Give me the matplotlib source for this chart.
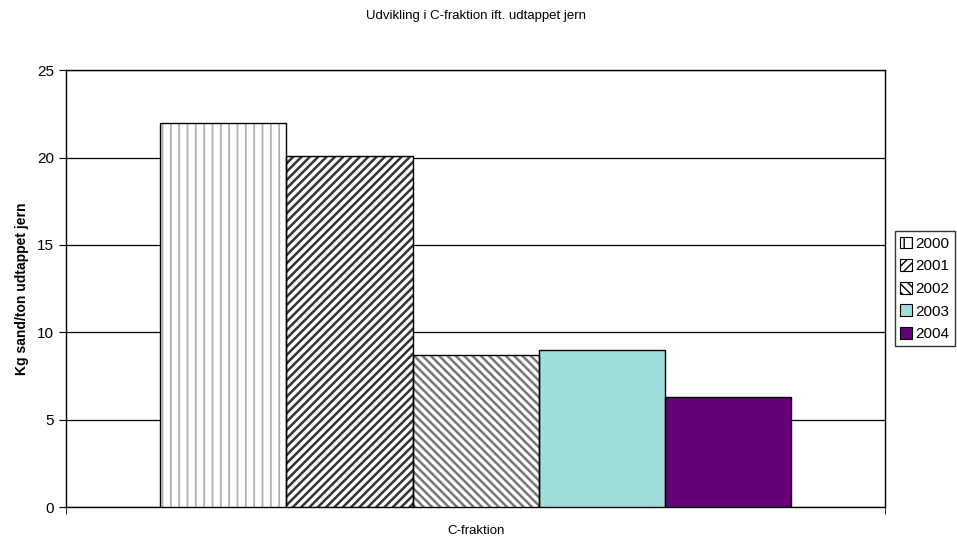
import matplotlib
matplotlib.use("Agg")
import matplotlib.pyplot as plt
from matplotlib.patches import Patch

plt.rcParams['font.family'] = ['Liberation Sans', 'DejaVu Sans']

# data
years = ['2000', '2001', '2002', '2003', '2004']
values = [22.0, 20.1, 8.72, 8.98, 6.27]
category = 'C-fraktion'

# styles per series
faces = ['white', 'white', 'white', '#a0dede', '#660077']
hatches = ['||', '////', '\\\\\\\\', None, None]
hatch_colors = ['#b0b0b0', '#333333', '#777777', None, None]
hatch_lw = [1.3, 1.8, 1.8, 1.0, 1.0]

fig = plt.figure(figsize=(9.57, 5.36), dpi=100)
ax = fig.add_axes([0.069, 0.054, 0.856, 0.815])

bw = 0.154
n = len(years)
handles = []
for i, (yr, v) in enumerate(zip(years, values)):
    x = (i - (n - 1) / 2) * bw
    if hatches[i]:
        b = ax.bar(x, v, width=bw, color=faces[i], hatch=hatches[i],
                   edgecolor=hatch_colors[i], linewidth=0, zorder=3)
        for p in b:
            if hasattr(p, 'set_hatch_linewidth'):
                p.set_hatch_linewidth(hatch_lw[i])
    else:
        ax.bar(x, v, width=bw, color=faces[i], linewidth=0, zorder=3)
    ax.bar(x, v, width=bw, fill=False, edgecolor='black', linewidth=1, zorder=4)
    h = Patch(facecolor=faces[i], edgecolor='black', linewidth=0.8,
              hatch=hatches[i], label=yr)
    handles.append(h)

ax.set_xlim(-0.5, 0.5)
ax.set_ylim(0, 25)
ax.set_yticks([0, 5, 10, 15, 20, 25])
ax.yaxis.grid(True, color='black', linewidth=0.9)
ax.set_axisbelow(True)
ax.set_xticks([0])
ax.set_xticklabels([category], fontsize=9.5)
ax.tick_params(axis='x', length=0, pad=13)
ax.set_xticks([-0.5, 0.5], minor=True)
ax.tick_params(axis='x', which='minor', length=5, direction='out', color='black')
ax.tick_params(axis='y', length=5, direction='out', labelsize=11)
for s in ax.spines.values():
    s.set_color('black')
    s.set_linewidth(1)

ax.set_ylabel('Kg sand/ton udtappet jern', fontsize=10, fontweight='bold', labelpad=6)
fig.text(0.497, 0.97, 'Udvikling i C-fraktion ift. udtappet jern', ha='center',
         va='center', fontsize=9.5)

leg = fig.legend(handles=handles, loc='center left', bbox_to_anchor=(0.935, 0.461),
                 fontsize=11, frameon=True, fancybox=False, edgecolor='black',
                 handlelength=0.8, handleheight=0.8, handletextpad=0.2,
                 borderpad=0.35, labelspacing=0.55, borderaxespad=0)
leg.get_frame().set_linewidth(1)

fig.savefig('out.png', dpi=100)
